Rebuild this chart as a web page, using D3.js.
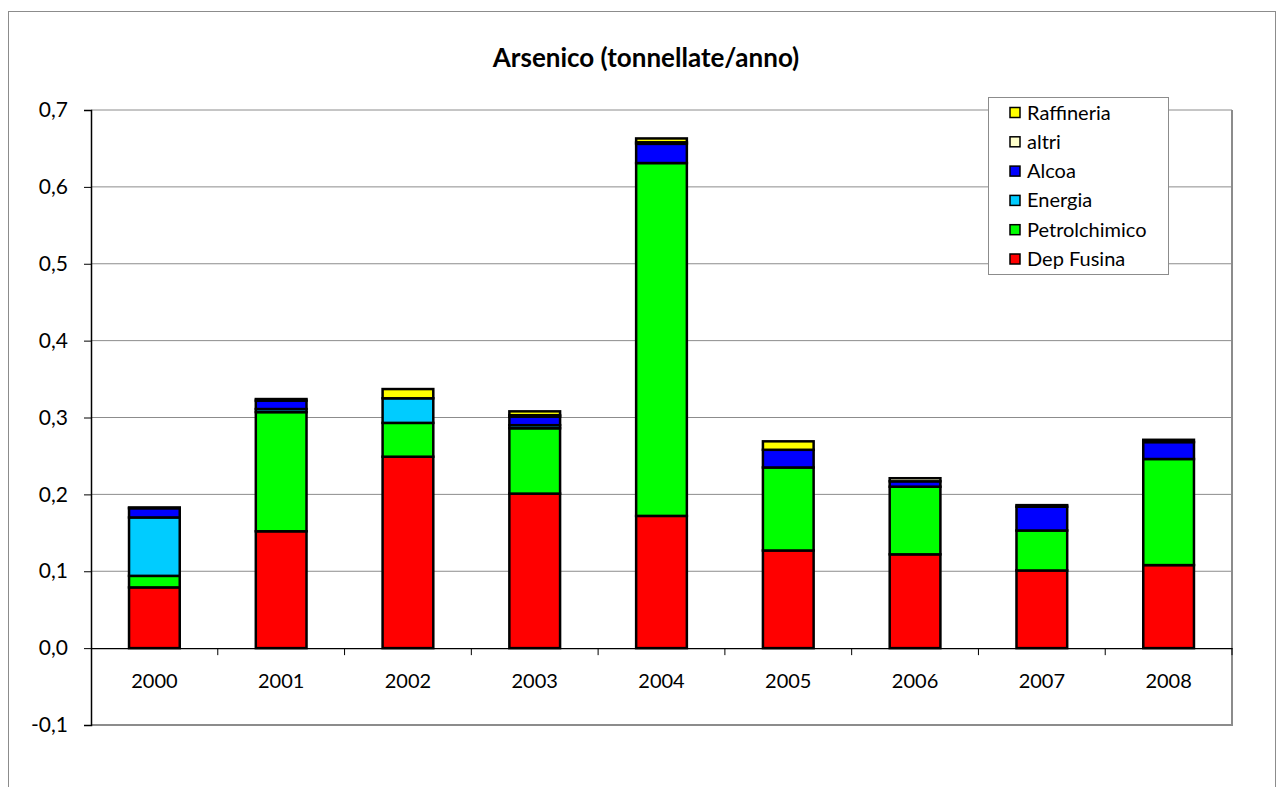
<!DOCTYPE html>
<html>
<head>
<meta charset="utf-8">
<script src="https://cdn.jsdelivr.net/npm/d3@7"></script>
<style>
  body { margin: 0; background: #fff; }
  text { font-family: Lato, "Open Sans", sans-serif; fill: #000; }
</style>
</head>
<body>
<svg id="chart"></svg>
<script>
// values in tonnellate/anno
const years = ['2000', '2001', '2002', '2003', '2004', '2005', '2006', '2007', '2008'];
const depFusina = [0.079, 0.152, 0.249, 0.201, 0.172, 0.127, 0.122, 0.101, 0.108];
const petrolchimico = [0.015, 0.155, 0.044, 0.085, 0.459, 0.108, 0.088, 0.052, 0.138];
const energia = [0.076, 0.004, 0.032, 0.004, 0, 0, 0, 0, 0];
const alcoa = [0.012, 0.011, 0, 0.011, 0.025, 0.023, 0.007, 0.031, 0.022];
const altri = [0.001, 0.002, 0, 0.002, 0.002, 0, 0.004, 0.002, 0.003];
const raffineria = [0, 0, 0.012, 0.005, 0.005, 0.011, 0, 0, 0];
const yTicks = [-0.1, 0, 0.1, 0.2, 0.3, 0.4, 0.5, 0.6, 0.7];

const series = [
  { name: 'Dep Fusina', values: depFusina, color: '#ff0000' },
  { name: 'Petrolchimico', values: petrolchimico, color: '#00ff00' },
  { name: 'Energia', values: energia, color: '#00ccff' },
  { name: 'Alcoa', values: alcoa, color: '#0000ff' },
  { name: 'altri', values: altri, color: '#ffffcc' },
  { name: 'Raffineria', values: raffineria, color: '#ffff00' }
];

const width = 1282, height = 787;
const plot = { left: 91, right: 1232, top: 110, bottom: 725 };

const svg = d3.select('#chart')
  .attr('width', width)
  .attr('height', height);

// outer chart border
svg.append('rect')
  .attr('x', 8.5).attr('y', 11.5)
  .attr('width', 1267).attr('height', 800)
  .attr('fill', 'none')
  .attr('stroke', '#8c8c8c');

const x = d3.scaleBand()
  .domain(years)
  .range([plot.left, plot.right]);

const y = d3.scaleLinear()
  .domain([-0.1, 0.7])
  .range([plot.bottom, plot.top]);

// gridlines
svg.append('g')
  .selectAll('line')
  .data(yTicks.filter(d => d !== 0))
  .enter()
  .append('line')
  .attr('x1', plot.left).attr('x2', plot.right)
  .attr('y1', d => y(d)).attr('y2', d => y(d))
  .attr('stroke', '#8c8c8c')
  .attr('stroke-width', d => d === -0.1 ? 2 : 1);

// plot right border
svg.append('line')
  .attr('x1', plot.right).attr('x2', plot.right)
  .attr('y1', plot.top).attr('y2', plot.bottom + 1)
  .attr('stroke', '#8c8c8c')
  .attr('stroke-width', 2);

const table = years.map(function(yr, i) {
  const row = { year: yr };
  series.forEach(s => { row[s.name] = s.values[i]; });
  return row;
});

const stacked = d3.stack().keys(series.map(s => s.name))(table);
const barW = x.bandwidth() * 0.4;

svg.append('g')
  .selectAll('g')
  .data(stacked)
  .enter()
  .append('g')
  .attr('fill', (d, i) => series[i].color)
  .selectAll('rect')
  .data(d => d.filter(p => p[1] - p[0] > 0))
  .enter()
  .append('rect')
  .attr('x', d => x(d.data.year) + (x.bandwidth() - barW) / 2)
  .attr('y', d => y(d[1]))
  .attr('width', barW)
  .attr('height', d => y(d[0]) - y(d[1]))
  .attr('stroke', '#000')
  .attr('stroke-width', 2.5);

// y axis
const yAxis = d3.axisLeft(y)
  .tickValues(yTicks)
  .tickSize(7)
  .tickPadding(16)
  .tickFormat(d => d3.format('.1f')(d).replace('.', ',').replace('−', '-'));

svg.append('g')
  .attr('class', 'y axis')
  .attr('transform', 'translate(' + plot.left + ', 0)')
  .call(yAxis)
  .call(g => g.select('.domain').attr('stroke', '#000').attr('stroke-width', 1.5))
  .call(g => g.selectAll('.tick line').attr('stroke', '#000'))
  .call(g => g.selectAll('text').attr('font-size', 21));

// x axis on the zero line
const xAxis = d3.axisBottom(x)
  .tickSize(0)
  .tickPadding(26);

const xg = svg.append('g')
  .attr('class', 'x axis')
  .attr('transform', 'translate(0, ' + y(0) + ')')
  .call(xAxis);
xg.select('.domain').attr('stroke', '#000').attr('stroke-width', 1.2);
xg.selectAll('text').attr('font-size', 20);

xg.selectAll('.sep')
  .data(years.slice(1).concat(['end']))
  .enter()
  .append('line')
  .attr('x1', d => d === 'end' ? plot.right : x(d))
  .attr('x2', d => d === 'end' ? plot.right : x(d))
  .attr('y1', 0).attr('y2', 7)
  .attr('stroke', '#000');

// title
svg.append('text')
  .attr('x', 646).attr('y', 67)
  .attr('text-anchor', 'middle')
  .attr('font-size', 26)
  .attr('font-weight', 'bold')
  .text('Arsenico (tonnellate/anno)');

// legend
const legend = svg.append('g').attr('transform', 'translate(988, 97)');
legend.append('rect')
  .attr('x', 0.5).attr('y', 0.5)
  .attr('width', 180).attr('height', 177)
  .attr('fill', '#fff')
  .attr('stroke', '#8c8c8c');

const items = legend.selectAll('.item')
  .data(series.slice().reverse())
  .enter()
  .append('g')
  .attr('class', 'item')
  .attr('transform', (d, i) => 'translate(22, ' + (15.5 + i * 29.3) + ')');

items.append('rect')
  .attr('x', 0).attr('y', -5)
  .attr('width', 10).attr('height', 10)
  .attr('fill', d => d.color)
  .attr('stroke', '#000')
  .attr('stroke-width', 1.5);

items.append('text')
  .attr('x', 17).attr('y', 7)
  .attr('font-size', 20)
  .text(d => d.name);
</script>
</body>
</html>
